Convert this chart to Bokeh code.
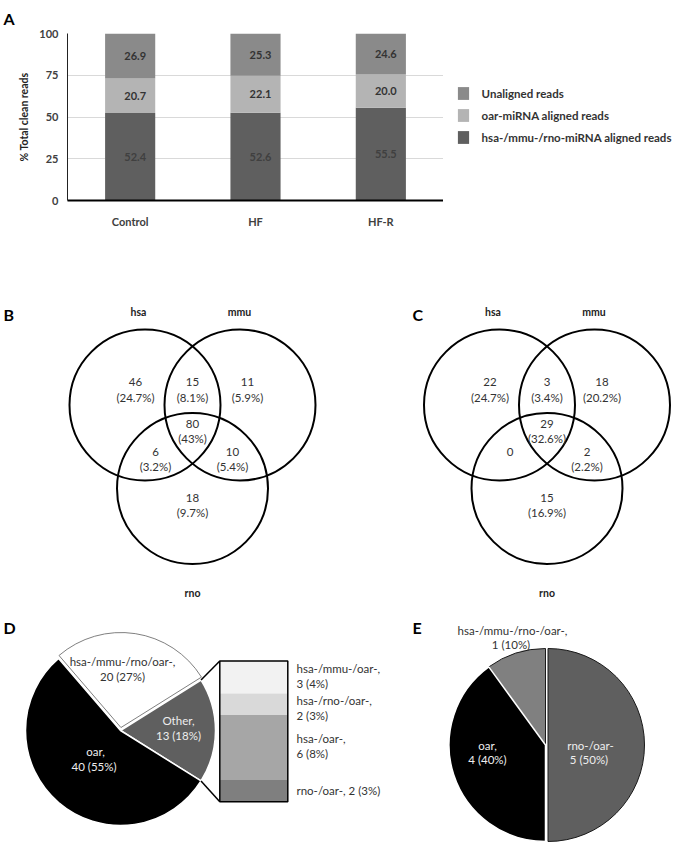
import numpy as np
from bokeh.plotting import figure
from bokeh.models import (ColumnDataSource, FactorRange, Range1d, Legend,
                          LegendItem)
from bokeh.layouts import column, row
from bokeh.embed import file_html
from bokeh.resources import INLINE
from bokeh.core.properties import value

FONT = "Lato"

# ------------------------------------------------------------------ data
groups = ["Control", "HF", "HF-R"]
hsa_mmu_rno_reads = [52.4, 52.6, 55.5]
oar_reads = [20.7, 22.1, 20.0]
unaligned_reads = [26.9, 25.3, 24.6]
series_names = ["hsa-/mmu-/rno-miRNA aligned reads", "oar-miRNA aligned reads",
                "Unaligned reads"]
y_ticks = [0, 25, 50, 75, 100]

venn_sets = ["hsa", "mmu", "rno"]
venn_B_counts = ["46", "15", "11", "80", "6", "10", "18"]
venn_B_pcts = ["(24.7%)", "(8.1%)", "(5.9%)", "(43%)", "(3.2%)", "(5.4%)", "(9.7%)"]
venn_C_counts = ["22", "3", "18", "29", "0", "2", "15"]
venn_C_pcts = ["(24.7%)", "(3.4%)", "(20.2%)", "(32.6%)", "", "(2.2%)", "(16.9%)"]

pieD_names = ["Other,", "hsa-/mmu-/rno/oar-,", "oar,"]
pieD_values = [13, 20, 40]
pieD_pcts = ["13 (18%)", "20 (27%)", "40  (55%)"]
otherD_names = ["hsa-/mmu-/oar-,", "hsa-/rno-/oar-,", "hsa-/oar-,", "rno-/oar-,"]
otherD_values = [3, 2, 6, 2]
otherD_pcts = ["3 (4%)", "2 (3%)", "6  (8%)", "2 (3%)"]

pieE_names = ["rno-/oar-", "hsa-/mmu-/rno-/oar-,", "oar,"]
pieE_values = [5, 1, 4]
pieE_pcts = ["5  (50%)", "1  (10%)", "4 (40%)"]

# ------------------------------------------------------------------ styles
bar_colors = ["#5f5f5f", "#b4b4b4", "#8a8a8a"]
bar_text_colors = ["#404040", "#333333", "#333333"]
TXT = "#333333"
FS = "11.5px"
W = 675
W1 = 443
H1 = 230

# ================================================================= panel A
src = ColumnDataSource(dict(group=groups, s0=hsa_mmu_rno_reads, s1=oar_reads,
                            s2=unaligned_reads))
p1 = figure(x_range=FactorRange(*groups), y_range=Range1d(0, 100),
            width=W1, height=H1, output_backend="svg", toolbar_location=None,
            min_border_left=67, min_border_right=0, min_border_top=32,
            min_border_bottom=28, title="A")
p1.frame_align = False
p1.outline_line_color = None
p1.title.align = "left"
p1.title.offset = -64
p1.title.standoff = 12
p1.title.text_font = FONT
p1.title.text_font_size = "16px"
p1.title.text_font_style = "bold"
p1.title.text_color = "black"

rs = p1.vbar_stack(["s0", "s1", "s2"], x="group", width=0.4, color=bar_colors,
                   line_color=None, source=src)

series = [hsa_mmu_rno_reads, oar_reads, unaligned_reads]
bottom = np.zeros(len(groups))
for vals, tc in zip(series, bar_text_colors):
    v = np.array(vals)
    mids = bottom + v / 2
    p1.text(x=groups, y=list(mids), text=[f"{x:.1f}" for x in v], x_offset=5,
            text_align="center", text_baseline="middle", text_color=tc,
            text_font=value(FONT), text_font_style="bold", text_font_size="11px")
    bottom = bottom + v

p1.xgrid.visible = False
p1.ygrid.ticker = y_ticks
p1.ygrid.grid_line_color = "#d9d9d9"
p1.yaxis.ticker = y_ticks
for ax in (p1.xaxis[0], p1.yaxis[0]):
    ax.major_tick_line_color = None
    ax.minor_tick_line_color = None
    ax.major_label_text_font = FONT
    ax.major_label_text_font_style = "bold"
    ax.major_label_text_font_size = "11px"
    ax.major_label_text_color = "#404040"
p1.yaxis.axis_line_color = "#222222"
p1.yaxis.major_label_standoff = 3
p1.yaxis.axis_label = "% Total clean reads"
p1.yaxis.axis_label_text_font = FONT
p1.yaxis.axis_label_text_font_style = "bold"
p1.yaxis.axis_label_text_font_size = "10.5px"
p1.yaxis.axis_label_text_color = "#222222"
p1.yaxis.axis_label_standoff = 6
p1.xaxis.axis_line_color = "black"
p1.xaxis.axis_line_width = 2
p1.xaxis.major_label_standoff = 8

# legend panel to the right of the bars
pl = figure(width=W - W1, height=H1, x_range=Range1d(0, 1), y_range=Range1d(0, 1),
            x_axis_type=None, y_axis_type=None, min_border=0,
            output_backend="svg", toolbar_location=None)
pl.frame_align = False
pl.outline_line_color = None
pl.grid.visible = False
# off-screen proxies that only carry the legend swatches
leg_rs = [pl.vbar(x=[-5], top=[0], width=0.4, color=c, line_color=None)
          for c in bar_colors]
legend = Legend(items=[LegendItem(label=series_names[2], renderers=[leg_rs[2]]),
                       LegendItem(label=series_names[1], renderers=[leg_rs[1]]),
                       LegendItem(label=series_names[0], renderers=[leg_rs[0]])],
                location=(12.6, 84.6), glyph_width=14, glyph_height=16,
                label_height=16, spacing=6, padding=0, margin=0,
                label_standoff=12, border_line_color=None,
                background_fill_alpha=0, label_text_font=FONT,
                label_text_font_style="bold", label_text_font_size="11.5px",
                label_text_color=TXT)
pl.add_layout(legend)

# ================================================================= panels B-E
p2 = figure(width=W, height=844 - H1, x_range=Range1d(0, W),
            y_range=Range1d(844, H1), x_axis_type=None, y_axis_type=None,
            min_border=0, output_backend="svg", toolbar_location=None)
p2.frame_align = False
p2.outline_line_color = None
p2.grid.visible = False


def txt(xs, ys, texts, color=TXT, size=FS, style="normal", align="center",
        baseline="middle"):
    p2.text(x=xs, y=ys, text=texts, text_color=color, text_font=value(FONT),
            text_font_size=size, text_font_style=style, text_align=align,
            text_baseline=baseline)


# panel letters
txt([3, 412, 3, 412], [314, 314, 627, 627], ["B", "C", "D", "E"], color="black",
    size="16px", style="bold", align="left", baseline="alphabetic")

# Venn diagrams (layout geometry)
venn_r = 75.5
circ_dx = [-47.5, 47.5, 0]
circ_dy = [-83.5, -83.5, 0]
set_lab_dx = [-54, 47, 0]
set_lab_y = [311, 311, 592]
reg_dx = [-57, 0, 55, 0, -37, 40, 0]
reg_dy = [-106.5, -106.5, -106.5, -65, -37, -37, 9]
for cx, cy, counts, pcts in [(192, 488, venn_B_counts, venn_B_pcts),
                             (546.5, 488, venn_C_counts, venn_C_pcts)]:
    p2.circle(x=[cx + d for d in circ_dx], y=[cy + d for d in circ_dy],
              radius=venn_r, fill_color=None, line_color="black", line_width=2)
    txt([cx + d for d in set_lab_dx], set_lab_y, venn_sets, color="#222222",
        size="10.5px", style="bold")
    txt([cx + d for d in reg_dx], [cy + d for d in reg_dy], counts)
    txt([cx + d for d in reg_dx], [cy + d + 15 for d in reg_dy], pcts)


def pie_angles(vals, start):
    fr = np.array(vals, dtype=float) / np.sum(vals)
    cum = np.cumsum(fr) * 2 * np.pi
    starts = start + cum - fr * 2 * np.pi
    ends = start + cum
    return starts, ends


# ---- panel D
Dcx, Dcy, Dr = 120, 730, 95
fr0 = pieD_values[0] / np.sum(pieD_values)
d_st, d_en = pie_angles(pieD_values, -fr0 * np.pi)
d_mid = (d_st + d_en) / 2
d_explode = [0, 3, 0]
d_fill = ["#5f5f5f", "white", "black"]
d_line = ["white", "#808080", "white"]
for i in range(3):
    ex = d_explode[i] * np.cos(d_mid[i])
    ey = -d_explode[i] * np.sin(d_mid[i])
    p2.wedge(x=Dcx + ex, y=Dcy + ey, radius=Dr, start_angle=d_st[i],
             end_angle=d_en[i], fill_color=d_fill[i], line_color=d_line[i],
             line_width=1.5 if i != 1 else 1)
d_lab_dx = [58, 2, -25]
d_lab_dy = [-10, -69, 21]
d_lab_col = ["#eeeeee", TXT, "#eeeeee"]
txt([Dcx + d for d in d_lab_dx], [Dcy + d for d in d_lab_dy], pieD_names,
    color=d_lab_col)
txt([Dcx + d for d in d_lab_dx], [Dcy + d + 15 for d in d_lab_dy], pieD_pcts,
    color=d_lab_col)

# breakdown bar of "Other"
box_l, box_r, box_top = 219.3, 287.3, 660.5
box_scale = 10.82
ov = np.array(otherD_values, dtype=float)
tops = box_top + np.concatenate([[0], np.cumsum(ov)[:-1]]) * box_scale
bots = box_top + np.cumsum(ov) * box_scale
p2.quad(left=box_l, right=box_r, top=list(tops), bottom=list(bots),
        fill_color=["#f2f2f2", "#d9d9d9", "#a6a6a6", "#7f7f7f"], line_color=None)
p2.quad(left=box_l, right=box_r, top=box_top, bottom=bots[-1], fill_color=None,
        line_color="black", line_width=1.5)
# connector lines from the "Other" wedge
ax_top = Dcx + Dr * np.cos(d_en[0]); ay_top = Dcy - Dr * np.sin(d_en[0])
ax_bot = Dcx + Dr * np.cos(d_st[0]); ay_bot = Dcy - Dr * np.sin(d_st[0])
p2.segment(x0=[ax_top, ax_bot], y0=[ay_top, ay_bot], x1=[box_l, box_l],
           y1=[box_top, bots[-1]], line_color="black", line_width=1.5)
centers = (tops + bots) / 2
line1 = [otherD_names[i] for i in range(3)] + [otherD_names[3] + " " + otherD_pcts[3]]
y1 = [centers[0] - 9, centers[1] - 4, centers[2] - 9, centers[3]]
txt([296] * 4, y1, line1, align="left")
txt([296] * 3, [y + 15 for y in y1[:3]], otherD_pcts[:3], align="left")

# ---- panel E
Ecx, Ecy, Er = 545, 744.5, 96.5
e_st, e_en = pie_angles(pieE_values, -np.pi / 2)
e_mid = (e_st + e_en) / 2
e_explode = [2.5, 0, 0]
e_fill = ["#5f5f5f", "#808080", "black"]
e_line = ["#1a1a1a", "#1a1a1a", "white"]
for i in range(3):
    ex = e_explode[i] * np.cos(e_mid[i])
    ey = -e_explode[i] * np.sin(e_mid[i])
    p2.wedge(x=Ecx + ex, y=Ecy + ey, radius=Er, start_angle=e_st[i],
             end_angle=e_en[i], fill_color=e_fill[i], line_color=e_line[i],
             line_width=1 if i != 2 else 1.5)
e_lab_dx = [45, -33, -58]
e_lab_dy = [0, -115, 0]
e_lab_col = ["#eeeeee", TXT, "#eeeeee"]
txt([Ecx + d for d in e_lab_dx], [Ecy + d for d in e_lab_dy], pieE_names,
    color=e_lab_col)
txt([Ecx + d for d in e_lab_dx], [Ecy + d + 14.5 for d in e_lab_dy], pieE_pcts,
    color=e_lab_col)

layout = column(row(p1, pl), p2)
open("out.html", "w").write(file_html(layout, INLINE))
